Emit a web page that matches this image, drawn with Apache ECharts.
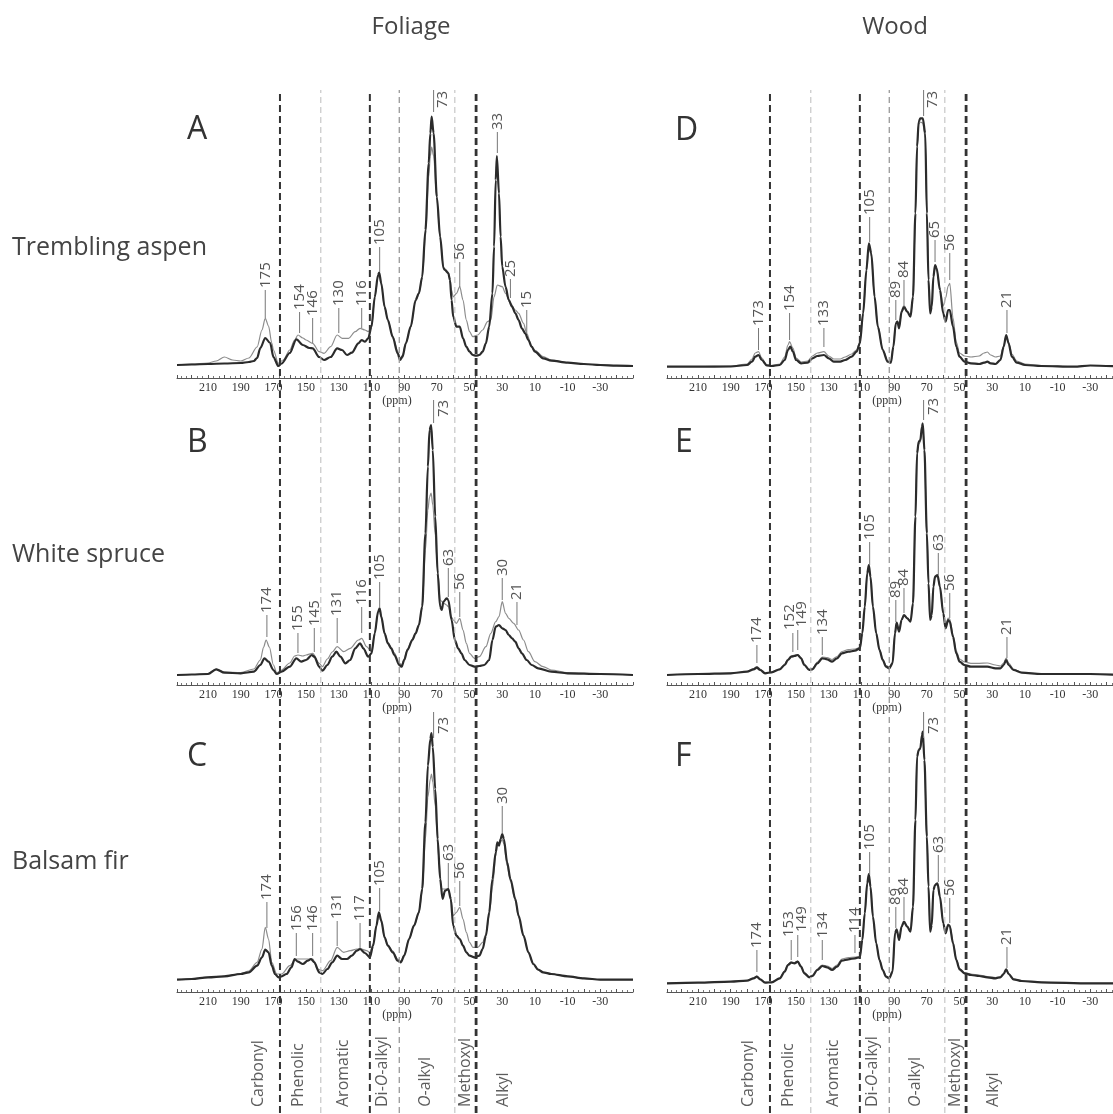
<!DOCTYPE html>
<html>
<head>
<meta charset="utf-8">
<script src="https://cdn.jsdelivr.net/npm/echarts@6.0.0/dist/echarts.min.js"></script>
<style>html,body{margin:0;padding:0;background:#fff}#c{width:1113px;height:1114px}</style>
</head>
<body>
<div id="c"></div>
<script>
// ---------- DATA (ppm, intensity in arbitrary units) ----------
const aspenFoliageDark = [[229,13],[220,13.5],[210,14],[200,14.5],[190,15],[185,16],[182,17],[180,20],[178,30],[175,40],[172,35],[170,21],[167,12],[165,14.5],[160,25],[156,38.7],[152,33],[148,30],[146,29.7],[142,21],[139,18],[135,21],[131,29.7],[128,28],[125,23],[122,25.3],[118,34.7],[116,38],[114,36.3],[112,39.7],[110,51.3],[108,81],[106,103],[105.3,105.3],[104,94.7],[102,71.3],[100,58],[97,41],[94,24.7],[92.5,18],[91,21.3],[89,34.7],[86,51.3],[83,78],[81,84.7],[79,101],[77,148],[75,214.7],[74,244.7],[73.2,261.3],[72,244.7],[70,181],[68,141.3],[66,109.7],[65,108],[63,104.7],[62,98],[61,78],[60,61.3],[58,51.3],[56,51.3],[54,39.7],[52,31.3],[50,26.3],[48,23],[46,22.3],[44,23],[42,26.3],[40,34.7],[38,51.3],[36,84.7],[35,131.3],[34,198],[33.3,222],[32,184.7],[31,141.3],[30,111.3],[28,91.3],[26,78],[24,71.3],[22,64.7],[20,58],[18,49.7],[16,44.7],[14,38],[12,31.3],[10,26.3],[5,19.7],[0,17.3],[-10,15.3],[-20,14],[-30,13],[-40,12.3],[-50,12]];
const aspenFoliageLight = [[229,13],[220,14],[210,15],[205,17],[200,21],[195,18],[190,17],[185,20],[180,31],[177,48],[175,59.7],[173,52],[171,35],[170,28],[167,14.7],[164,18],[160,28],[157,38],[155,43],[152,40],[150,38],[146,34.7],[142,26.3],[139,24.7],[135,31.3],[131,43],[128,39.7],[124,39.7],[120,46.3],[117,49.7],[114,48],[112,46.3],[110,51.3],[108,80],[106,101],[105.3,103],[104,93],[102,71],[100,58],[97,42],[94,27],[92.5,20],[91,23],[89,35],[86,51],[83,77],[81,84],[79,100],[77,141],[75,201],[74,222],[73.2,231],[72,222],[70,178],[68,140],[66,111],[65,109],[63,106],[62,100],[61,88],[60,81],[58,84.7],[56,91.3],[54,78],[52,58],[50,46.3],[48,41.3],[45,43],[42,48],[39,56.3],[37,58],[35,81.3],[33,93],[30,91.3],[28,84.7],[25,74.7],[22,68],[20,64.7],[17,54.7],[15,44.7],[12,31],[10,27.7],[5,21.3],[0,18],[-10,15.5],[-20,14],[-30,13],[-40,12.3],[-50,12]];

const spruceFoliageDark = [[229,10],[220,10.5],[210,11],[205,15.7],[200,12.3],[190,11.7],[182,13.3],[178,20],[175.5,26.7],[173,23.3],[170,15],[168,11],[165,13.3],[160,18.3],[156,26.7],[153,23.3],[150,25],[146.5,30],[145,28.3],[142,18.3],[140,14.3],[137,20],[134,28.3],[131.5,33.3],[129,28.3],[126,21.7],[123,25],[120,36.7],[117,41.7],[115,36.7],[112,28.3],[110,31.7],[108,51.7],[106,73.3],[105,76.7],[104,68.3],[102,51.7],[100,41.7],[98,36.7],[96,30],[93,20],[91.5,18.3],[90,25],[88,35],[85,45],[83,51.7],[81,60],[79,78.3],[77,151.7],[75.5,218.3],[74.5,255],[73.5,260],[72.5,235],[71,168.3],[69.5,111.7],[68,78.3],[67,75],[66,83.3],[64,86.7],[63,85],[61,65],[59,45],[57,36.7],[55,31.7],[53,25],[50,20],[47,18.3],[44,19],[41,20],[38,25],[36,45],[34,58.3],[32,60],[30,56.7],[28,55],[26,50],[24,46.7],[22,43.3],[20,36.7],[18,31.7],[15,25],[12,20],[8,16.7],[0,13.3],[-10,11.7],[-30,11],[-50,10]];
const spruceFoliageLight = [[229,10],[220,10.5],[210,11.5],[205,16],[200,13],[190,12.5],[182,16],[178,25],[176,38],[174.5,45],[172.5,38],[170,20],[168,12],[165,15],[160,22],[157,29],[155,30],[152,29],[150,30],[146,31.7],[142,21.7],[140,18.3],[137,26],[134,33],[131,38.3],[127,33.3],[123,36.7],[118,45],[116,46.7],[113,38.3],[110,33.3],[108,52],[106,72],[105,75],[104,67],[102,52],[100,43],[98,38],[96,32],[93,22],[91.5,20],[90,26],[88,36],[85,46],[83,52],[81,60],[79,77],[77,135],[75.5,175],[74.5,188],[73.5,192],[72.5,180],[71,150],[69.5,115],[68,85],[66,82],[64,80],[63,78.3],[61,68],[60,65],[58,61.7],[56,66.7],[54,55],[52,41.7],[50,31.7],[47,26.7],[44,28.3],[40,38.3],[37,51.7],[34,63.3],[32,68.3],[30,83.3],[28,71.7],[26,66.7],[23,61.7],[20,55],[17,45],[14,33.3],[10,23.3],[5,18.3],[0,15],[-10,12.5],[-30,11],[-50,10]];

const firFoliageDark = [[229,12.3],[220,13],[210,14.7],[200,15.7],[190,18],[185,19.7],[180,26.3],[177,34.7],[175,42.3],[173,39.7],[171,26.3],[169,18],[167,14.7],[165,15.7],[162,18],[159,24.7],[157,33],[155,30.3],[152,28],[149,31.3],[147,33],[145,29.7],[142,19.7],[140,18],[137,23],[134,29.7],[131,36.3],[128,33],[125,33],[122,36.3],[119,41.3],[117,43],[114,39],[111,34.7],[109,46.3],[107,66.3],[105.5,79.7],[104,71.3],[102,54.7],[100,46.3],[97,39.7],[94,31.3],[92,29.7],[90,36.3],[87,53],[84,66.3],[81,79.7],[79,103],[77,169.7],[75.5,226.3],[74,253],[73.3,259],[72.5,245],[71,203],[69.5,153],[68,113],[66.5,93],[65,101.3],[63,103],[61.5,93],[60,66.3],[58,56.3],[56,53],[54,46.3],[52,39.7],[50,36.3],[47,34.7],[44,36.3],[42,43],[40,56.3],[38,79.7],[36,113],[34,139.7],[33,149.7],[32,146.3],[31,153],[30,158],[29,153],[27,129.7],[25,113],[22,93],[20,76.3],[17,56.3],[14,39.7],[11,28],[8,22.3],[5,19.7],[0,18],[-10,15.7],[-20,13.7],[-30,12.3],[-50,12.3]];
const firFoliageLight = [[229,12.5],[220,13.5],[210,15],[200,16],[190,18.5],[185,21],[180,29.7],[177,43],[175,64.7],[173,53],[171,29.7],[168,18],[165,18],[160,26.3],[156,33],[153,33],[150,33],[146,33],[143,23],[140,21.3],[135,31.3],[131,44.7],[127,39.7],[123,41.3],[119,43],[116,43],[113,41.3],[111,39.7],[109,48],[107,66],[105.5,78],[104,70],[102,55],[100,47],[97,41],[94,33],[92,31],[90,37],[87,53],[84,66],[81,79],[79,100],[77,153],[75.5,195],[74,213],[73.3,218],[72.5,210],[71,186],[69,136],[67,103],[65,103],[63,103],[61.5,95],[60,76.3],[58,79.7],[56,84.7],[54,73],[52,59.7],[50,49.7],[48,44.7],[45,44.7],[42,49.7],[40,58],[38,76.3],[36,105],[34,136],[33,146.3],[31,149.7],[30,153],[29,148],[27,126.3],[25,111],[22,91],[20,75],[17,56],[14,39.7],[11,28],[8,22.3],[5,19.7],[0,18],[-10,15.7],[-20,13.7],[-30,12.3],[-50,12.3]];

const aspenWoodDark = [[229,11.3],[210,11.3],[190,11.5],[180,13],[177,16.3],[175,21.3],[173,23],[171,18],[168,12.7],[165,12],[160,13],[157,18],[155,28],[153.5,31.3],[152,26.3],[150,18],[147,14.7],[143,15.3],[140,19.7],[137,22],[133,23],[130,19.7],[127,16.3],[123,16.3],[120,18],[116,21.3],[113,26.3],[111,34.7],[109,64.7],[107,108],[105.5,134.7],[104,124.7],[102,81.3],[100,51.3],[97,28],[94,16.3],[92,15.3],[90.5,31.3],[89,54.7],[88,56.3],[87,49.7],[85.5,66.3],[84,71.3],[82,66.3],[80,61.3],[78.5,81.3],[77,164.7],[76,231.3],[75,256.3],[74,259.7],[72.5,259.7],[71,244.7],[70,164.7],[69,98],[68,64.7],[67,71.3],[66,101.3],[65,113],[64,109.7],[62,88],[60,64.7],[58.5,56.3],[57,68],[56,68],[54,51.3],[52,31.3],[50,21.3],[47,16.3],[43,14.7],[38,14],[35,15.3],[33,16.3],[31,14.7],[28,14],[25,18],[23,31.3],[21.5,43],[20,34.7],[18,21.3],[15,15.3],[10,13],[0,12],[-20,11.3],[-30,12.5],[-50,11.3]];
const aspenWoodLight = [[229,11.5],[210,11.5],[190,12],[180,14],[177,19],[175,25],[173,26.3],[171,20],[168,13],[165,12.5],[160,14],[157,21],[155,33],[154,36.3],[152,30],[150,20],[147,16],[143,17],[140,22],[137,25],[133,26.3],[130,22],[127,19],[123,19],[120,21],[116,24],[113,28],[111,36],[109,65],[107,106],[105.5,131],[104,122],[102,80],[100,52],[97,29],[94,17],[92,16],[90.5,32],[89,55],[88,56],[87,50],[85.5,65],[84,70],[82,66],[80,62],[78.5,82],[77,163],[76,229],[75,254],[74,256],[72.5,255],[71,240],[70,165],[69,100],[68,68],[67,74],[66,100],[65,110],[64,108],[62,90],[60,72],[58.5,80],[57,92],[56,94.7],[54,60],[52,36],[50,25],[47,22],[43,21],[38,22],[35,25],[33,26],[31,23],[28,21],[25,22],[23,32],[21.5,42],[20,36],[18,24],[15,17],[10,14],[0,12.5],[-20,11.5],[-30,12.5],[-50,11.5]];

const spruceWoodDark = [[229,10],[210,11],[190,11.7],[180,13.3],[176,15.7],[174,17.3],[172,15],[169,11.7],[165,12.7],[160,15.7],[157,20],[155,25],[153,28.3],[151,29],[149,30],[147,26.7],[145,20],[142,15],[140,15.7],[137,21.7],[134,26.7],[131,25.7],[128,23.3],[125,26.7],[122,31.7],[118,33.3],[114,34.3],[111,36.7],[109.5,51.7],[108,78.3],[106.5,111.7],[105.5,120],[104.5,108.3],[103,78.3],[101,51.7],[99,35],[97,25],[95,18.3],[93,16.7],[91,21.7],[89.5,51.7],[88.5,62.3],[87,53.3],[85.5,65],[84,70],[82,66.7],[80,63.3],[78.5,81.7],[77,168.3],[76,231.7],[75,243.3],[74,245],[73,258.3],[72.5,261.7],[71.5,235],[70,151.7],[69,101.7],[68,65],[67,70],[66,98.3],[65,108.3],[63.5,110],[62,98.3],[60,71.7],[58.5,56.7],[57,65],[56,63.3],[54,48.3],[52,31.7],[50,23.3],[47,20],[43,18.3],[38,18.3],[33,18.3],[28,16.7],[25,16.7],[23,20],[21.5,25],[20,20],[17,15],[12,12.3],[0,11],[-30,11],[-50,10]];
const spruceWoodLight = [[229,10],[210,11],[190,12],[180,13.5],[176,16.5],[174,18.5],[172,16],[169,12],[165,13],[160,16],[157,21],[155,26],[153,29],[151,30],[149,30.5],[147,27.5],[145,21],[142,16],[140,16.5],[137,23],[134,28],[131,27.5],[128,25.5],[125,28.5],[122,33.5],[118,35.5],[114,36],[111,37.5],[109.5,52],[108,78],[106.5,110],[105.5,118],[104.5,107],[103,78],[101,52],[99,36],[97,26],[95,19.5],[93,18],[91,23],[89.5,52],[88.5,62],[87,54],[85.5,65],[84,70],[82,67],[80,64],[78.5,82],[77,166],[76,229],[75,241],[74,243],[73,255],[72.5,258],[71.5,233],[70,152],[69,103],[68,67],[67,72],[66,99],[65,108],[63.5,109],[62,98],[60,73],[58.5,59],[57,67],[56,66],[54,50],[52,34],[50,26],[47,23],[43,21.7],[38,21.7],[33,22],[28,20],[25,19],[23,22],[21.5,27],[20,22],[17,16],[12,12.5],[0,11],[-30,11],[-50,10]];

const firWoodDark = [[229,8.7],[210,9.3],[190,10.3],[180,11.3],[176,13.7],[174,15.3],[172,12.7],[169,9.3],[165,9.7],[160,13.7],[157,20.3],[155,27],[153,29.3],[151,28.7],[149,30.3],[147,25.3],[145,18.7],[142,14.7],[140,16],[137,22],[134,26],[131,24.7],[128,22],[125,25.3],[122,31.3],[118,32.7],[114,33.7],[111,34.7],[109.5,52],[108,78.7],[106.5,108.7],[105.5,118],[104.5,105.3],[103,75.3],[101,48.7],[99,32],[97,22],[95,15.3],[93,13.7],[91,20.3],[89.5,58.7],[88.5,62.7],[87,52],[85.5,65.3],[84,70.3],[82,65.3],[80,60.3],[78.5,85.3],[77,172],[76,235.3],[75,242],[74,243.7],[73,257],[72.5,260.3],[71.5,232],[70,155.3],[69,105.3],[68,60.3],[67,67],[66,102],[65,107],[63.5,108.7],[62,95.3],[60,68.7],[58.5,58.7],[57,67],[56,66],[54,48.7],[52,32],[50,22.7],[47,18.7],[43,17],[38,16],[33,14.7],[28,13.7],[25,14.7],[23,18],[21.5,22.7],[20,18],[17,12.7],[12,11],[0,9.7],[-30,8.7],[-50,8.7]];
const firWoodLight = [[229,9],[210,9.5],[190,10.5],[180,11.5],[176,14],[174,15.8],[172,13],[169,9.7],[165,10],[160,14],[157,21],[155,27.5],[153,30],[151,29.5],[149,31],[147,26],[145,19.5],[142,15.5],[140,17],[137,23],[134,27],[131,26],[128,23.5],[125,27],[122,33],[118,34.5],[114,35],[111,35.5],[109.5,52],[108,78],[106.5,108],[105.5,117],[104.5,105],[103,75],[101,49],[99,32.5],[97,22.5],[95,16],[93,14.5],[91,21],[89.5,58],[88.5,62],[87,52],[85.5,65],[84,70],[82,65],[80,60.5],[78.5,85],[77,171],[76,234],[75,241],[74,243],[73,256],[72.5,259],[71.5,231],[70,155],[69,106],[68,62],[67,68],[66,102],[65,107],[63.5,108],[62,95],[60,69],[58.5,60],[57,68],[56,67],[54,50],[52,33],[50,23.5],[47,19.5],[43,18],[38,17],[33,15.5],[28,14.5],[25,15.5],[23,18.5],[21.5,23],[20,18.5],[17,13],[12,11],[0,9.7],[-30,8.7],[-50,8.7]];

// peak labels: [ppm, leader from, leader to, text, (text ppm, text start)]
const peaksA = [[175,60,88,'175'],[154,45,66,'154'],[146,35,60,'146'],[130,45,70,'130'],[116,50,70,'116'],[105,106,131,'105'],[72,266,288,'73',66.5,270],[56,91,116,'56'],[33,225,246,'33'],[25,80,99,'25'],[15,45,68,'15']];
const peaksB = [[174,48,70,'174'],[155,32,52,'155'],[145,33,57,'145'],[131,42,67,'131'],[116,52,78,'116'],[105,78,103,'105'],[72,262,285,'73',66,268],[63,88,117,'63'],[56,68,93,'56'],[30,85,107,'30'],[21,60,83,'21']];
const peaksC = [[174,64,90,'174'],[156,36,59,'156'],[146,36,59,'146'],[131,46,71,'131'],[117,44,69,'117'],[105,81,104,'105'],[72,254,280,'73',66,258],[63,104,129,'63'],[56,86,111,'56'],[30,159,186,'30']];
const peaksD = [[173,28,50,'173'],[154,38,65,'154'],[133,31,50,'133'],[105,136,161,'105'],[89,58,78,'89'],[84,71,98,'84'],[72,262,288,'73',66.5,270],[65,116,138,'65'],[56,98,125,'56'],[21,45,68,'21']];
const peaksE = [[174,22,40,'174'],[152,33,52,'152',154,55],[149,35,55,'149',146.5,58],[134,30,48,'134'],[105,120,143,'105'],[89,63,85,'89'],[84,72,97,'84'],[72,265,285,'73',66,270],[63,110,132,'63'],[56,67,92,'56'],[21,27,48,'21']];
const peaksF = [[174,20,42,'174'],[153,32,52,'153',154.5,55],[149,35,57,'149',146.5,60],[134,32,52,'134'],[114,39,57,'114'],[105,117,140,'105'],[89,64,85,'89'],[84,72,95,'84'],[72,254,280,'73',66,258],[63,110,137,'63'],[56,69,94,'56'],[21,24,45,'21']];

// region boundaries (ppm) and region names
const boundaries = [166, 141, 111, 93, 59, 46];
const regionNames = ['Carbonyl', 'Phenolic', 'Aromatic', 'Di-O-alkyl', 'O-alkyl', 'Methoxyl', 'Alkyl'];
const regionPpm = [179, 155, 127, 103, 77, 52.5, 29];

const columnTitles = ['Foliage', 'Wood'];
const rowTitles = ['Trembling aspen', 'White spruce', 'Balsam fir'];
const panelLetters = ['A', 'B', 'C', 'D', 'E', 'F'];

// ---------- LAYOUT ----------
const colLeft = [177, 667];
const colWidth = 456;
const axisY = [378, 685, 992];
const panelH = 300;
const overlayTop = 88, overlayH = 1025;
const boundaryStyle = [
  {color:'#333', width:2, type:[7,4]},
  {color:'#bbb', width:1, type:[6,4]},
  {color:'#333', width:2, type:[7,4]},
  {color:'#999', width:1.3, type:[6,4]},
  {color:'#bbb', width:1, type:[6,4]},
  {color:'#333', width:2.8, type:[7,4]}
];

const panels = [
  {dark: aspenFoliageDark, light: aspenFoliageLight, peaks: peaksA, col: 0, row: 0},
  {dark: spruceFoliageDark, light: spruceFoliageLight, peaks: peaksB, col: 0, row: 1},
  {dark: firFoliageDark, light: firFoliageLight, peaks: peaksC, col: 0, row: 2},
  {dark: aspenWoodDark, light: aspenWoodLight, peaks: peaksD, col: 1, row: 0},
  {dark: spruceWoodDark, light: spruceWoodLight, peaks: peaksE, col: 1, row: 1},
  {dark: firWoodDark, light: firWoodLight, peaks: peaksF, col: 1, row: 2}
];

const grids = [], xAxes = [], yAxes = [], series = [];
const serif = 'Liberation Serif';
const sans = 'Open Sans';

panels.forEach((p, i) => {
  grids.push({left: colLeft[p.col], width: colWidth, top: axisY[p.row] - panelH, height: panelH, containLabel: false, outerBoundsMode: 'none'});
  xAxes.push({
    gridIndex: i, type: 'value', inverse: true, min: -50, max: 229, interval: 10,
    axisLine: {show: true, lineStyle: {color: '#555', width: 1}},
    axisTick: {show: true, inside: true, length: 3, lineStyle: {color: '#555'}},
    minorTick: {show: true, splitNumber: 3, length: 2, lineStyle: {color: '#777'}},
    splitLine: {show: false},
    axisLabel: {
      margin: 4, fontFamily: serif, fontSize: 12, color: '#333', showMinLabel: false, showMaxLabel: false,
      formatter: v => (v % 10 === 0 && Math.abs(Math.round(v / 10)) % 2 === 1) ? String(v) : ''
    },
    name: '(ppm)', nameLocation: 'middle', nameGap: 17,
    nameTextStyle: {fontFamily: serif, fontSize: 12, color: '#333', padding: [0, 16, 0, 0]}
  });
  yAxes.push({gridIndex: i, type: 'value', min: 0, max: panelH, show: false});
  series.push({
    type: 'line', xAxisIndex: i, yAxisIndex: i, data: p.light, symbol: 'none', smooth: 0.3, smoothMonotone: 'x',
    lineStyle: {color: '#8c8c8c', width: 1.2}, z: 2, silent: true
  });
  series.push({
    type: 'line', xAxisIndex: i, yAxisIndex: i, data: p.dark, symbol: 'none', smooth: 0.3, smoothMonotone: 'x',
    lineStyle: {color: '#2b2b2b', width: 2.2}, z: 3, silent: true
  });
  const labels = p.peaks;
  series.push({
    type: 'custom', xAxisIndex: i, yAxisIndex: i, clip: false, silent: true, z: 5,
    data: labels.map(l => [l[0], l[1], l[2]]),
    encode: {x: 0, y: [1, 2]},
    renderItem: function (params, api) {
      const l = labels[params.dataIndex];
      const a = api.coord([l[0], l[1]]);
      const b = api.coord([l[0], l[2]]);
      const tp = l.length > 4 ? l[4] : l[0];
      const th = l.length > 4 ? l[5] : l[2] + 2;
      const t = api.coord([tp, th]);
      return {type: 'group', children: [
        {type: 'line', shape: {x1: a[0], y1: a[1], x2: b[0], y2: b[1]}, style: {stroke: '#777', lineWidth: 1}},
        {type: 'text', x: t[0], y: t[1], rotation: Math.PI / 2,
          style: {text: l[3], fontSize: 15, fontFamily: sans, fill: '#555', align: 'left', verticalAlign: 'middle'}}
      ]};
    }
  });
});

// overlay grids for region boundaries and region names
[0, 1].forEach(c => {
  const gi = grids.length;
  grids.push({left: colLeft[c], width: colWidth, top: overlayTop, height: overlayH, containLabel: false, outerBoundsMode: 'none'});
  xAxes.push({gridIndex: gi, type: 'value', inverse: true, min: -50, max: 229, show: false});
  yAxes.push({gridIndex: gi, type: 'value', min: 0, max: overlayH, show: false});
  boundaries.forEach((b, k) => {
    series.push({
      type: 'line', xAxisIndex: gi, yAxisIndex: gi, data: [[b, 0], [b, overlayH - 2]], symbol: 'none', silent: true, z: 4,
      lineStyle: boundaryStyle[k]
    });
  });
  series.push({
    type: 'scatter', xAxisIndex: gi, yAxisIndex: gi, symbolSize: 1, silent: true, z: 6,
    itemStyle: {color: 'rgba(0,0,0,0)'},
    data: regionPpm.map((v, k) => ({value: [v, 6], name: regionNames[k]})),
    label: {
      show: true, position: 'inside', rotate: 90, align: 'left', verticalAlign: 'middle',
      fontFamily: sans, fontSize: 16, color: '#333',
      formatter: prm => {
        const n = prm.name;
        if (n.indexOf('O-') >= 0) {
          const idx = n.indexOf('O-');
          return '{a|' + n.slice(0, idx) + '}{i|O}{a|' + n.slice(idx + 1) + '}';
        }
        return '{a|' + n + '}';
      },
      rich: {
        a: {fontFamily: sans, fontSize: 16, color: '#333'},
        i: {fontFamily: sans, fontSize: 16, color: '#333', fontStyle: 'italic'}
      }
    }
  });
});

const graphics = [];
const titleX = [411, 895];
columnTitles.forEach((t, c) => graphics.push({type: 'text', x: titleX[c], y: 27,
  style: {text: t, fontFamily: sans, fontSize: 24, fill: '#444', align: 'center', verticalAlign: 'middle'}}));
const rowY = [248, 555, 862];
rowTitles.forEach((t, r) => graphics.push({type: 'text', x: 12, y: rowY[r],
  style: {text: t, fontFamily: sans, fontSize: 25, fill: '#444', align: 'left', verticalAlign: 'middle'}}));
const letterPos = [[187, 130], [187, 443], [187, 757], [675, 131], [675, 443], [675, 757]];
panelLetters.forEach((t, k) => graphics.push({type: 'text', x: letterPos[k][0], y: letterPos[k][1],
  style: {text: t, fontFamily: sans, fontSize: 32, fill: '#333', align: 'left', verticalAlign: 'middle'}}));

const chart = echarts.init(document.getElementById('c'), null, {renderer: 'canvas'});
chart.setOption({
  animation: false,
  backgroundColor: '#fff',
  grid: grids, xAxis: xAxes, yAxis: yAxes, series: series,
  graphic: graphics
});
</script>
</body>
</html>
